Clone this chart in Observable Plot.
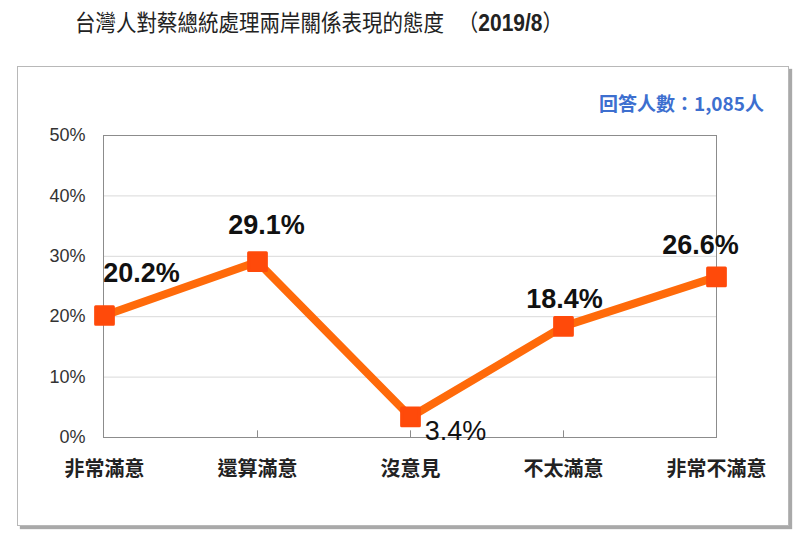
<!DOCTYPE html>
<html><head><meta charset="utf-8">
<script src="https://cdn.jsdelivr.net/npm/d3@7"></script>
<script src="https://cdn.jsdelivr.net/npm/@observablehq/plot@0.6"></script>
<style>
body{margin:0;background:#fff;}
#wrap{position:relative;width:800px;height:534px;overflow:hidden;font-family:"Liberation Sans","Noto Sans CJK TC",sans-serif;}
#title{position:absolute;left:75px;top:5px;font-size:20.5px;line-height:28px;color:#222;white-space:nowrap;font-family:"Noto Sans CJK TC",sans-serif;transform:scaleY(1.12);transform-origin:left top;}
#title b{font-family:"Liberation Sans",sans-serif;font-size:21px;}
#box{position:absolute;left:17px;top:66px;width:770px;height:458px;border:1px solid #b8b8b8;box-shadow:3px 3px 1px #a9a9a9;background:#fff;}
#n{position:absolute;right:36px;top:89px;font-size:19px;font-weight:bold;color:#3d6fcf;font-family:"Noto Sans CJK TC",sans-serif;}
#chart{position:absolute;left:0;top:0;}
</style></head>
<body>
<div id="wrap">
<div id="title">台灣人對蔡總統處理兩岸關係表現的態度&nbsp;&nbsp;&nbsp;（<b>2019/8</b>）</div>
<div id="box"></div>
<div id="n">回答人數：1,085人</div>
<div id="chart"></div>
</div>
<script>
const categories = ["非常滿意","還算滿意","沒意見","不太滿意","非常不滿意"];
const values = [20.2, 29.1, 3.4, 18.4, 26.6];
const yTicks = [0,10,20,30,40,50];

const data = categories.map((c,i)=>({cat:c, v:values[i], i}));
const lbl = (i, dx, dy, weight) => Plot.text(data.filter(d=>d.i===i), {
  x:"cat", y:"v", text:d=>d.v.toFixed(1)+"%", dx, dy,
  fontSize:27, fontWeight:weight, fill:"#111",
  fontFamily:"Liberation Sans, Arial, sans-serif"
});

const plot = Plot.plot({
  width:800, height:534,
  marginLeft:103, marginRight:84, marginTop:135, marginBottom:97,
  style:{background:"transparent", fontFamily:"Liberation Sans, Noto Sans CJK TC, sans-serif"},
  x:{type:"point", domain:categories, padding:0, label:null},
  y:{domain:[0,50], label:null},
  marks:[
    Plot.ruleY(yTicks.filter(t=>t>0 && t<50), {stroke:"#d9d9d9", strokeWidth:1}),
    Plot.frame({stroke:"#8c8c8c", strokeWidth:1}),
    Plot.ruleX(categories.slice(1,-1), {y1:0, y2:1.1, stroke:"#8c8c8c"}),
    Plot.axisY(yTicks, {tickSize:0, tickPadding:18, tickFormat:d=>d+"%", fontSize:18, fill:"#333", fontFamily:"Liberation Sans, sans-serif", label:null}),
    Plot.axisX({tickSize:0, tickPadding:24, fontSize:20, fontWeight:"bold", fill:"#222", fontFamily:"Noto Sans CJK TC, sans-serif", label:null}),
    Plot.line(data, {x:"cat", y:"v", stroke:"#ff6a0a", strokeWidth:8, strokeLinejoin:"round"}),
    Plot.dot(data, {x:"cat", y:"v", symbol:"square", r:10, fill:"#ff4a0a", stroke:"#ff4a0a", strokeWidth:3, strokeLinejoin:"round"}),
    lbl(0, 37, -42, "bold"),
    lbl(1, 9, -36, "bold"),
    lbl(2, 45, 14, "normal"),
    lbl(3, 1, -27, "bold"),
    lbl(4, -16, -31, "bold")
  ]
});
document.getElementById("chart").appendChild(plot);
</script>
</body></html>
